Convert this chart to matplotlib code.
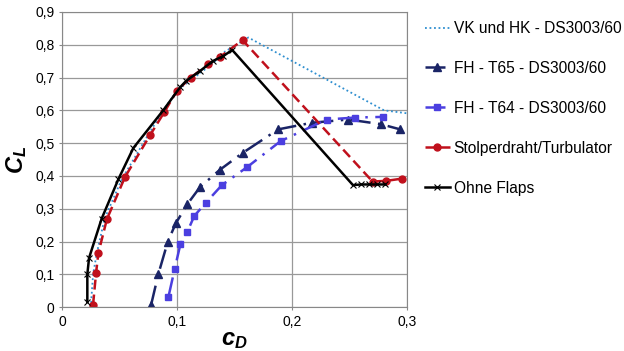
import matplotlib
matplotlib.use("Agg")
import matplotlib.pyplot as plt
from matplotlib.ticker import FuncFormatter

plt.rcParams['font.family'] = ['Liberation Sans', 'DejaVu Sans']
plt.rcParams['mathtext.fontset'] = 'custom'
plt.rcParams['mathtext.it'] = 'Liberation Sans:italic:bold'
plt.rcParams['mathtext.rm'] = 'Liberation Sans:bold'

# VK und HK - DS3003/60
vk_cd = [0.025, 0.027, 0.030, 0.037, 0.052, 0.074, 0.088, 0.100, 0.115, 0.130, 0.142, 0.152, 0.162, 0.280, 0.302]
vk_cl = [0.0, 0.10, 0.16, 0.27, 0.39, 0.52, 0.60, 0.66, 0.70, 0.74, 0.78, 0.80, 0.822, 0.60, 0.59]

# FH - T65 - DS3003/60
t65_cd = [0.0774, 0.0837, 0.092, 0.099, 0.109, 0.120, 0.137, 0.157, 0.188, 0.217, 0.249, 0.277, 0.294]
t65_cl = [0.006, 0.10, 0.20, 0.256, 0.314, 0.366, 0.418, 0.47, 0.542, 0.562, 0.572, 0.558, 0.542]

# FH - T64 - DS3003/60
t64_cd = [0.0925, 0.098, 0.103, 0.109, 0.115, 0.125, 0.139, 0.161, 0.190, 0.230, 0.255, 0.279]
t64_cl = [0.031, 0.117, 0.193, 0.23, 0.278, 0.318, 0.372, 0.427, 0.506, 0.572, 0.578, 0.58]

# Stolperdraht/Turbulator
st_cd = [0.027, 0.0296, 0.0316, 0.039, 0.0548, 0.0765, 0.089, 0.100, 0.112, 0.127, 0.137, 0.157, 0.270, 0.282, 0.296]
st_cl = [0.008, 0.104, 0.165, 0.268, 0.397, 0.524, 0.595, 0.66, 0.70, 0.74, 0.762, 0.814, 0.383, 0.385, 0.392]

# Ohne Flaps
of_cd = [0.022, 0.022, 0.0235, 0.0345, 0.049, 0.062, 0.088, 0.1026, 0.108, 0.120, 0.131, 0.140, 0.148, 0.253, 0.260, 0.267, 0.274, 0.281]
of_cl = [0.016, 0.10, 0.15, 0.27, 0.39, 0.485, 0.60, 0.67, 0.69, 0.72, 0.75, 0.765, 0.784, 0.372, 0.374, 0.374, 0.374, 0.374]

fig = plt.figure(figsize=(6.24, 3.51), dpi=100)
ax = fig.add_axes([0.0994, 0.125, 0.5529, 0.841])

ax.plot(vk_cd, vk_cl, ls=(0, (1, 1.5)), color='#2f8fd0', lw=1.3, label='VK und HK - DS3003/60')
ax.plot(t65_cd, t65_cl, ls=(0, (8, 3, 1, 3)), color='#1a2466', lw=1.8, marker='^', ms=5.5, label='FH - T65 - DS3003/60')
ax.plot(t64_cd, t64_cl, ls=(0, (8, 3, 1, 3)), color='#4b3fe0', lw=1.8, marker='s', ms=5, label='FH - T64 - DS3003/60')
ax.plot(st_cd, st_cl, ls=(0, (4, 2)), color='#c0101c', lw=1.8, marker='o', ms=5, label='Stolperdraht/Turbulator')
ax.plot(of_cd, of_cl, ls='-', color='black', lw=1.8, marker='x', ms=4.5, mew=0.8, label='Ohne Flaps')

ax.set_xlim(0, 0.3)
ax.set_ylim(0, 0.9)
ax.set_xticks([0, 0.1, 0.2, 0.3])
ax.set_yticks([i / 10 for i in range(10)])
fmt = FuncFormatter(lambda v, p: '0' if abs(v) < 1e-9 else ('%.1f' % v).replace('.', ','))
ax.xaxis.set_major_formatter(fmt)
ax.yaxis.set_major_formatter(fmt)
ax.tick_params(labelsize=10, length=2, color='#888888')
ax.grid(True, color='#999999', lw=0.9)
for s in ax.spines.values():
    s.set_color('#888888')

ax.set_xlabel(r'$c_D$', fontsize=17, labelpad=0)
ax.set_ylabel(r'$C_L$', fontsize=17, labelpad=4)

fig.legend(loc='upper left', bbox_to_anchor=(0.671, 0.958), frameon=False, fontsize=11.2,
           labelspacing=1.6, handlelength=1.6, handletextpad=0.25, borderaxespad=0)

fig.savefig('out.png', dpi=100)
